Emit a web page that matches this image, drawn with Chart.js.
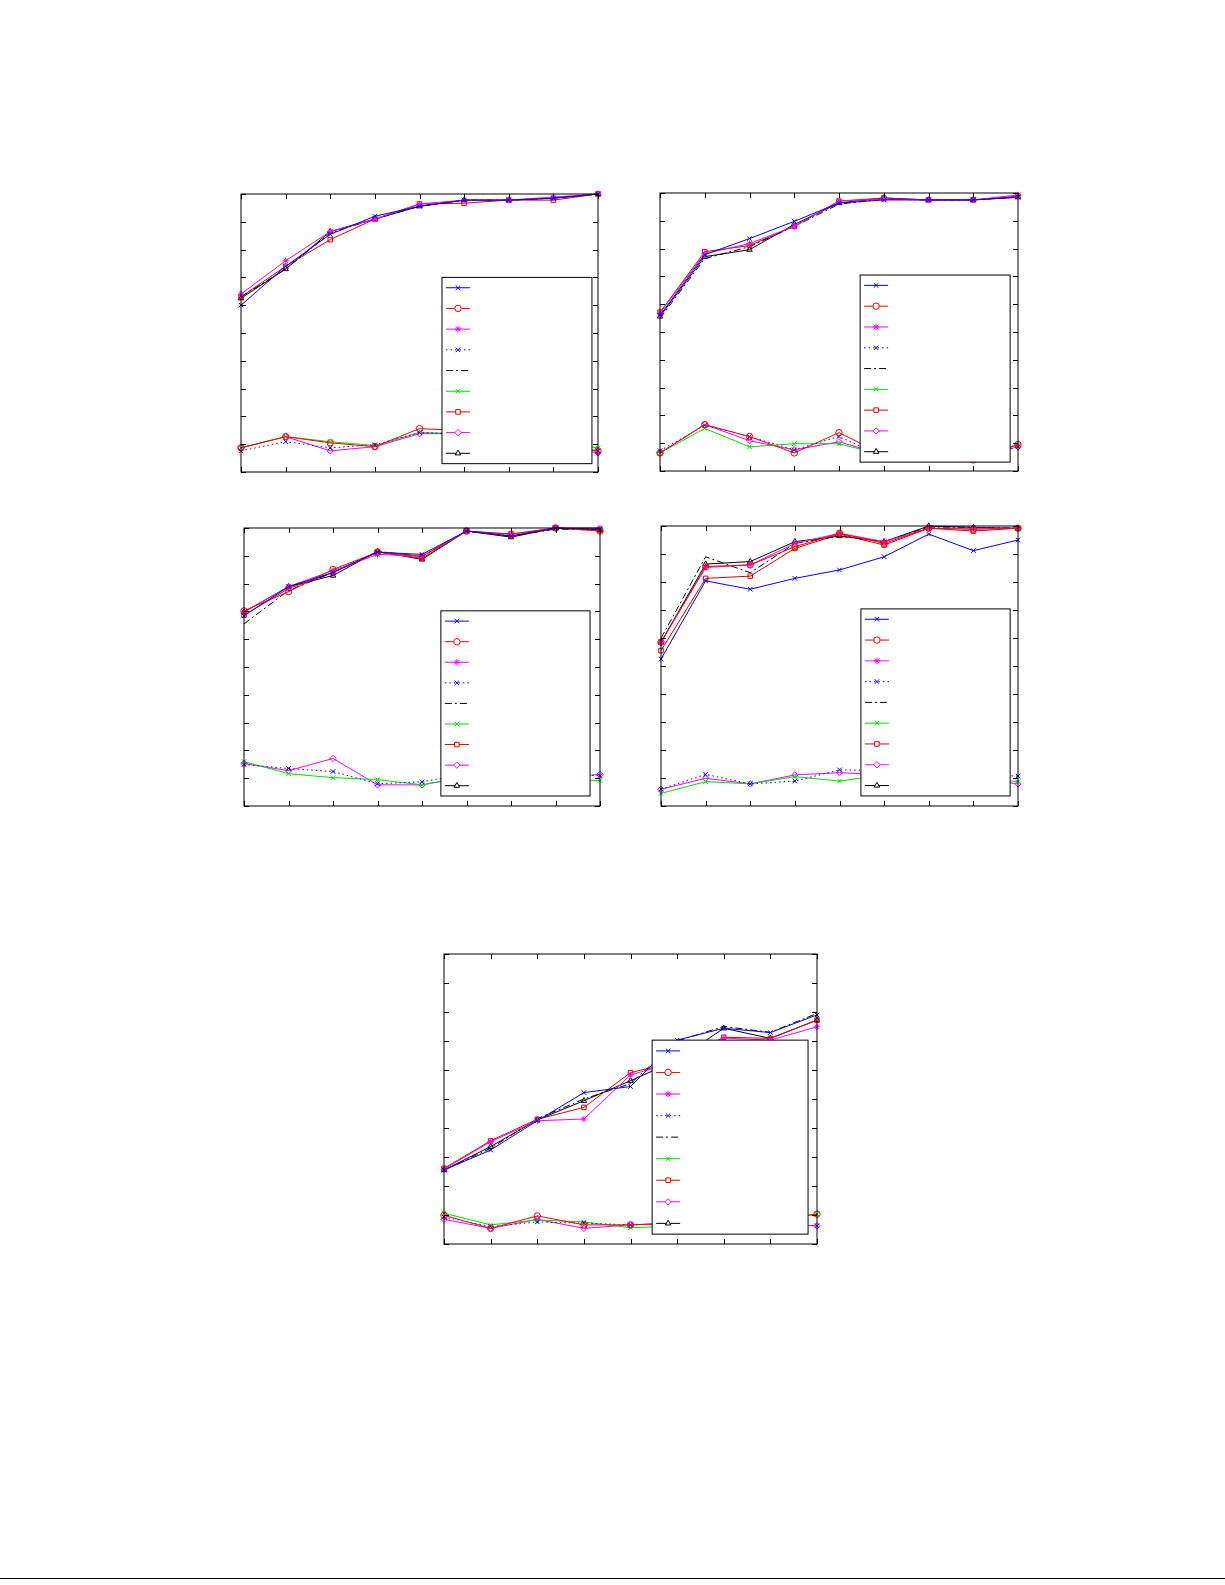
<!DOCTYPE html>
<html>
<head>
<meta charset="utf-8">
<script src="https://cdn.jsdelivr.net/npm/chart.js@4/dist/chart.umd.min.js"></script>
<style>
body { margin: 0; background: #fff; width: 1225px; height: 1585px; position: relative; }
.pane { position: absolute; }
.rule { position: absolute; left: 0; top: 1578px; width: 1225px; height: 1px; background: #000; }
</style>
</head>
<body>
<div class="rule"></div>

<script>
// x positions 1..9 on every panel
var xs = [1, 2, 3, 4, 5, 6, 7, 8, 9];

// series styles, in legend order
var series = [
  { color: '#0000ff', marker: 'crossRot', dash: [] },          // blue x solid
  { color: '#ff0000', marker: 'circle', dash: [] },            // red o
  { color: '#ff00ff', marker: 'star', dash: [] },              // magenta *
  { color: '#0000ff', marker: 'crossRot', dash: [1.5, 3] },    // blue x dotted
  { color: '#000000', marker: false, dash: [7, 3, 2, 3] },     // black dash-dot
  { color: '#00dd00', marker: 'crossRot', dash: [] },          // green x
  { color: '#dd0000', marker: 'rect', dash: [] },              // red square
  { color: '#ff00ff', marker: 'rectRot', dash: [] },           // magenta diamond
  { color: '#000000', marker: 'triangle', dash: [] }           // black triangle
];

// panel 1
var p1_blueX   = [0.60, 0.74, 0.855, 0.92, 0.956, 0.978, 0.978, 0.985, 1.0];
var p1_redO    = [0.087, 0.127, 0.105, 0.091, 0.156, 0.149, 0.124, 0.102, 0.076];
var p1_magStar = [0.64, 0.76, 0.865, 0.91, 0.964, 0.978, 0.978, 0.989, 1.0];
var p1_blueDot = [0.076, 0.109, 0.087, 0.098, 0.142, 0.135, 0.12, 0.095, 0.076];
var p1_dashDot = [0.63, 0.73, 0.86, 0.91, 0.956, 0.978, 0.978, 0.985, 1.0];
var p1_green   = [0.087, 0.127, 0.109, 0.095, 0.142, 0.138, 0.124, 0.102, 0.087];
var p1_redSq   = [0.63, 0.74, 0.836, 0.91, 0.964, 0.967, 0.978, 0.978, 1.0];
var p1_magDia  = [0.087, 0.127, 0.076, 0.091, 0.138, 0.138, 0.124, 0.095, 0.069];
var p1_blackTr = [0.625, 0.73, 0.865, 0.91, 0.956, 0.978, 0.978, 0.985, 1.0];

// panel 2
var p2_blueX   = [0.56, 0.778, 0.836, 0.898, 0.964, 0.975, 0.975, 0.975, 0.985];
var p2_redO    = [0.065, 0.167, 0.124, 0.065, 0.138, 0.058, 0.051, 0.04, 0.095];
var p2_magStar = [0.569, 0.782, 0.818, 0.880, 0.971, 0.978, 0.975, 0.975, 0.993];
var p2_blueDot = [0.073, 0.164, 0.124, 0.076, 0.124, 0.051, 0.051, 0.04, 0.087];
var p2_dashDot = [0.549, 0.764, 0.807, 0.880, 0.96, 0.978, 0.975, 0.975, 0.985];
var p2_green   = [0.065, 0.153, 0.087, 0.098, 0.098, 0.058, 0.051, 0.051, 0.095];
var p2_redSq   = [0.571, 0.789, 0.811, 0.88, 0.971, 0.982, 0.975, 0.975, 0.989];
var p2_magDia  = [0.065, 0.167, 0.109, 0.076, 0.105, 0.058, 0.051, 0.051, 0.087];
var p2_blackTr = [0.556, 0.771, 0.796, 0.887, 0.964, 0.982, 0.975, 0.975, 0.985];

// panel 3
var p3_blueX   = [0.684, 0.789, 0.84, 0.913, 0.905, 0.989, 0.971, 1.0, 0.996];
var p3_redO    = [0.702, 0.771, 0.851, 0.913, 0.898, 0.989, 0.978, 1.0, 0.989];
var p3_magStar = [0.698, 0.789, 0.847, 0.905, 0.898, 0.989, 0.978, 1.0, 1.0];
var p3_blueDot = [0.149, 0.135, 0.124, 0.08, 0.087, 0.116, 0.109, 0.116, 0.109];
var p3_dashDot = [0.655, 0.775, 0.84, 0.916, 0.898, 0.989, 0.971, 0.996, 0.993];
var p3_green   = [0.16, 0.116, 0.102, 0.095, 0.076, 0.105, 0.098, 0.098, 0.091];
var p3_redSq   = [0.687, 0.782, 0.84, 0.913, 0.891, 0.989, 0.971, 1.0, 0.993];
var p3_magDia  = [0.153, 0.127, 0.171, 0.076, 0.076, 0.105, 0.098, 0.105, 0.113];
var p3_blackTr = [0.698, 0.789, 0.829, 0.916, 0.887, 0.989, 0.967, 1.0, 0.993];

// panel 4
var p4_blueX   = [0.525, 0.804, 0.774, 0.813, 0.843, 0.89, 0.971, 0.912, 0.95];
var p4_redO    = [0.585, 0.855, 0.861, 0.926, 0.974, 0.938, 0.992, 0.988, 0.992];
var p4_magStar = [0.585, 0.852, 0.861, 0.938, 0.974, 0.944, 0.992, 0.992, 0.992];
var p4_blueDot = [0.06, 0.113, 0.079, 0.089, 0.129, 0.126, 0.117, 0.111, 0.107];
var p4_dashDot = [0.599, 0.89, 0.833, 0.938, 0.964, 0.944, 0.9964, 0.995, 0.992];
var p4_green   = [0.045, 0.087, 0.079, 0.105, 0.089, 0.111, 0.105, 0.099, 0.087];
var p4_redSq   = [0.555, 0.813, 0.821, 0.92, 0.971, 0.932, 0.992, 0.982, 0.992];
var p4_magDia  = [0.06, 0.099, 0.079, 0.111, 0.119, 0.111, 0.105, 0.099, 0.079];
var p4_blackTr = [0.585, 0.864, 0.873, 0.944, 0.964, 0.944, 1.0, 0.995, 0.992];

// panel 5
var p5_blueX   = [0.255, 0.324, 0.425, 0.522, 0.543, 0.703, 0.744, 0.729, 0.79];
var p5_redO    = [0.099, 0.054, 0.097, 0.066, 0.066, 0.072, 0.077, 0.083, 0.103];
var p5_magStar = [0.258, 0.353, 0.425, 0.431, 0.583, 0.629, 0.710, 0.703, 0.749];
var p5_blueDot = [0.093, 0.06, 0.076, 0.072, 0.066, 0.072, 0.072, 0.066, 0.063];
var p5_dashDot = [0.255, 0.33, 0.432, 0.5, 0.553, 0.70, 0.75, 0.73, 0.795];
var p5_green   = [0.106, 0.066, 0.083, 0.076, 0.056, 0.062, 0.071, 0.083, 0.103];
var p5_redSq   = [0.261, 0.356, 0.43, 0.471, 0.591, 0.629, 0.713, 0.709, 0.772];
var p5_magDia  = [0.085, 0.054, 0.085, 0.054, 0.066, 0.072, 0.072, 0.066, 0.063];
var p5_blackTr = [0.255, 0.336, 0.428, 0.494, 0.563, 0.634, 0.744, 0.709, 0.772];

// plot boxes: left, top, width, height of the axes frame; legend as fractions of the frame
var panels = [
  { box: [241, 194, 357, 278], leg: [0.563, 0.30, 0.983, 0.97],
    data: [p1_blueX, p1_redO, p1_magStar, p1_blueDot, p1_dashDot, p1_green, p1_redSq, p1_magDia, p1_blackTr] },
  { box: [660, 193, 358, 278], leg: [0.559, 0.295, 0.978, 0.968],
    data: [p2_blueX, p2_redO, p2_magStar, p2_blueDot, p2_dashDot, p2_green, p2_redSq, p2_magDia, p2_blackTr] },
  { box: [244, 528, 356, 278], leg: [0.553, 0.298, 0.972, 0.964],
    data: [p3_blueX, p3_redO, p3_magStar, p3_blueDot, p3_dashDot, p3_green, p3_redSq, p3_magDia, p3_blackTr] },
  { box: [661, 526, 357, 280], leg: [0.560, 0.296, 0.978, 0.964],
    data: [p4_blueX, p4_redO, p4_magStar, p4_blueDot, p4_dashDot, p4_green, p4_redSq, p4_magDia, p4_blackTr] },
  { box: [444, 954, 373, 290], leg: [0.558, 0.297, 0.976, 0.966],
    data: [p5_blueX, p5_redO, p5_magStar, p5_blueDot, p5_dashDot, p5_green, p5_redSq, p5_magDia, p5_blackTr] }
];

var PAD = 8;

// frame, inward ticks and the text-free legend box
var framePlugin = {
  id: 'frame',
  afterDatasetsDraw: function(chart, args, opts) {
    var c = chart.ctx, a = chart.chartArea;
    var sx = chart.scales.x, sy = chart.scales.y;
    c.save();
    c.strokeStyle = '#000';
    c.lineWidth = 1;
    c.setLineDash([]);
    c.strokeRect(a.left, a.top, a.right - a.left, a.bottom - a.top);
    c.beginPath();
    xs.forEach(function(v) {
      var px = Math.round(sx.getPixelForValue(v)) + 0.5;
      c.moveTo(px, a.bottom); c.lineTo(px, a.bottom - 5);
      c.moveTo(px, a.top); c.lineTo(px, a.top + 5);
    });
    for (var i = 0; i <= 10; i++) {
      var py = Math.round(sy.getPixelForValue(i / 10)) + 0.5;
      c.moveTo(a.left, py); c.lineTo(a.left + 5, py);
      c.moveTo(a.right, py); c.lineTo(a.right - 5, py);
    }
    c.stroke();

    var w = a.right - a.left, h = a.bottom - a.top;
    var L = a.left + opts.leg[0] * w, T = a.top + opts.leg[1] * h;
    var R = a.left + opts.leg[2] * w, B = a.top + opts.leg[3] * h;
    c.fillStyle = '#fff';
    c.fillRect(L, T, R - L, B - T);
    c.strokeRect(L, T, R - L, B - T);
    var step = (B - T) / 9;
    series.forEach(function(s, k) {
      var y = T + step * (k + 0.5);
      c.strokeStyle = s.color;
      c.setLineDash(s.dash);
      c.beginPath();
      c.moveTo(L + 4, y); c.lineTo(L + 28, y);
      c.stroke();
      c.setLineDash([]);
      if (s.marker) {
        Chart.helpers.drawPoint(c, { pointStyle: s.marker, radius: 3.2, borderWidth: 1 }, L + 16, y);
      }
    });
    c.restore();
  }
};

panels.forEach(function(p, n) {
  var div = document.createElement('div');
  div.className = 'pane';
  div.style.left = (p.box[0] - PAD) + 'px';
  div.style.top = (p.box[1] - PAD) + 'px';
  div.style.width = (p.box[2] + 2 * PAD) + 'px';
  div.style.height = (p.box[3] + 2 * PAD) + 'px';
  var cv = document.createElement('canvas');
  div.appendChild(cv);
  document.body.appendChild(div);

  new Chart(cv.getContext('2d'), {
    type: 'line',
    data: {
      datasets: series.map(function(s, k) {
        return {
          data: xs.map(function(x, i) { return { x: x, y: p.data[k][i] }; }),
          borderColor: s.color,
          backgroundColor: 'rgba(0,0,0,0)',
          pointBorderColor: s.color,
          borderWidth: 1,
          borderDash: s.dash,
          pointStyle: s.marker || 'circle',
          pointRadius: s.marker ? 3.2 : 0,
          pointBorderWidth: 1,
          tension: 0,
          clip: false
        };
      })
    },
    options: {
      animation: false,
      responsive: true,
      maintainAspectRatio: false,
      layout: { padding: PAD },
      scales: {
        x: { type: 'linear', min: 1, max: 9, display: false },
        y: { min: 0, max: 1, display: false }
      },
      plugins: {
        legend: { display: false },
        tooltip: { enabled: false },
        frame: { leg: p.leg }
      }
    },
    plugins: [framePlugin]
  });
});
</script>
</body>
</html>
